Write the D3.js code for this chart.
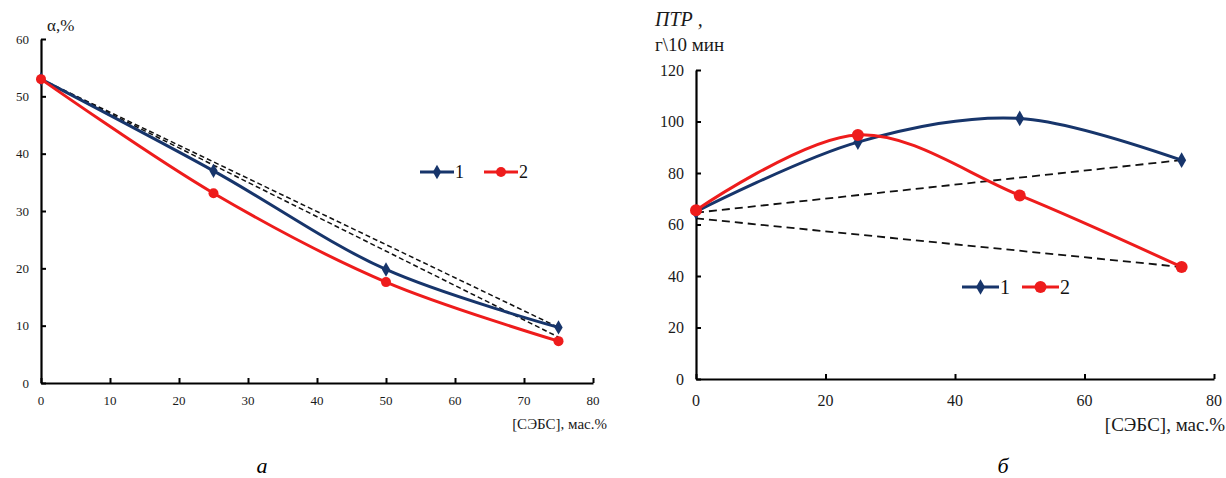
<!DOCTYPE html>
<html lang="ru">
<head>
<meta charset="utf-8">
<title>СЭБС</title>
<script src="https://d3js.org/d3.v7.min.js"></script>
<style>
  body { margin: 0; background: #fff; }
  svg { display: block; }
  svg text { font-family: 'Liberation Serif', 'DejaVu Serif', 'Times New Roman', serif; }
</style>
</head>
<body>
<script>

// shared x values, [СЭБС], мас.%
var sebs = [0, 25, 50, 75];

// panel a: alpha, %
var alpha1 = [53, 37, 19.8, 9.7];
var alpha2 = [53, 33.1, 17.6, 7.3];
var alphaDash1 = [[0, 53], [75, 9.7]];
var alphaDash2 = [[0, 53], [75, 8.0]];
var alphaTicksX = [0, 10, 20, 30, 40, 50, 60, 70, 80];
var alphaTicksY = [0, 10, 20, 30, 40, 50, 60];

// panel b: ПТР, г/10 мин
var ptr1 = [65, 92, 101.2, 85];
var ptr2 = [65.5, 94.8, 71.3, 43.5];
var ptrDash1 = [[0, 64.6], [75, 85]];
var ptrDash2 = [[0, 62.4], [75, 43.5]];
var ptrTicksX = [0, 20, 40, 60, 80];
var ptrTicksY = [0, 20, 40, 60, 80, 100, 120];

var seriesNames = ["1", "2"];
var blue = "#17356b";
var red = "#ee1c1c";

var W = 1226, H = 478;

var svg = d3.select("body").append("svg")
    .attr("width", W)
    .attr("height", H)
    .attr("font-family", "'Liberation Serif', 'DejaVu Serif', serif");

var curve = d3.curveCatmullRom.alpha(0.5);

function drawPanel(p) {
  var x = d3.scaleLinear().domain([0, 80]).range([p.left, p.right]);
  var y = d3.scaleLinear().domain([0, p.ymax]).range([p.bottom, p.top]);
  var g = svg.append("g");

  // dashed reference lines
  [p.dash1, p.dash2].forEach(function(d) {
    g.append("path")
        .attr("d", d3.line().x(function(v) { return x(v[0]); }).y(function(v) { return y(v[1]); })(d))
        .attr("fill", "none")
        .attr("stroke", "#111")
        .attr("stroke-width", p.dashWidth)
        .attr("stroke-dasharray", p.dashArray);
  });

  // axes
  var ax = g.append("g")
      .attr("transform", "translate(0," + p.bottom + ")")
      .call(d3.axisTop(x).tickValues(p.ticksX).tickSize(5).tickPadding(0).tickSizeOuter(0));
  ax.selectAll("text").remove();
  ax.selectAll("line").attr("stroke", "#000").attr("stroke-width", 2);
  ax.select(".domain").attr("stroke", "#000").attr("stroke-width", 2.2);

  var ay = g.append("g")
      .attr("transform", "translate(" + p.left + ",0)")
      .call(d3.axisRight(y).tickValues(p.ticksY).tickSize(5).tickSizeOuter(0));
  ay.selectAll("text").remove();
  ay.selectAll("line").attr("stroke", "#000").attr("stroke-width", 2);
  ay.select(".domain").attr("stroke", "#000").attr("stroke-width", 2.2);

  // tick labels
  g.selectAll(".xl").data(p.ticksX).enter().append("text")
      .attr("x", function(d) { return x(d); })
      .attr("y", p.bottom + p.xLabelDy)
      .attr("text-anchor", "middle")
      .attr("font-size", p.tickFont)
      .attr("fill", "#1a1a1a")
      .text(function(d) { return d; });

  g.selectAll(".yl").data(p.ticksY).enter().append("text")
      .attr("x", p.left - p.yLabelDx)
      .attr("y", function(d) { return y(d); })
      .attr("dy", "0.35em")
      .attr("text-anchor", "end")
      .attr("font-size", p.tickFont)
      .attr("fill", "#1a1a1a")
      .text(function(d) { return d; });

  // series
  var line = d3.line()
      .x(function(d, i) { return x(sebs[i]); })
      .y(function(d) { return y(d); })
      .curve(curve);

  g.append("path").attr("d", line(p.s1))
      .attr("fill", "none").attr("stroke", blue).attr("stroke-width", 3);
  g.append("path").attr("d", line(p.s2))
      .attr("fill", "none").attr("stroke", red).attr("stroke-width", 3);

  var diamond = d3.symbol().type(d3.symbolDiamond).size(p.diamondSize);
  g.selectAll(".m1").data(p.s1).enter().append("path")
      .attr("d", diamond)
      .attr("transform", function(d, i) { return "translate(" + x(sebs[i]) + "," + y(d) + ")"; })
      .attr("fill", blue);
  g.selectAll(".m2").data(p.s2).enter().append("circle")
      .attr("cx", function(d, i) { return x(sebs[i]); })
      .attr("cy", function(d) { return y(d); })
      .attr("r", p.circleR)
      .attr("fill", red);

  // legend
  var lg = g.append("g").attr("transform", "translate(" + p.legend[0] + "," + p.legend[1] + ")");
  [blue, red].forEach(function(c, i) {
    var ox = i * p.legendStep;
    lg.append("line").attr("x1", ox).attr("x2", ox + p.legendLen)
        .attr("y1", 0).attr("y2", 0)
        .attr("stroke", c).attr("stroke-width", 3);
    if (i === 0) {
      lg.append("path").attr("d", diamond).attr("fill", c)
          .attr("transform", "translate(" + (ox + p.legendLen / 2) + ",0)");
    } else {
      lg.append("circle").attr("cx", ox + p.legendLen / 2).attr("cy", 0)
          .attr("r", p.circleR).attr("fill", c);
    }
    lg.append("text").attr("x", ox + p.legendLen + 1).attr("y", 0).attr("dy", "0.35em")
        .attr("font-size", p.legendFont).attr("fill", "#111")
        .text(seriesNames[i]);
  });

  // x axis title
  g.append("text")
      .attr("x", p.xTitle[0]).attr("y", p.xTitle[1])
      .attr("text-anchor", "end")
      .attr("font-size", p.xTitleFont)
      .attr("fill", "#1a1a1a")
      .text("[СЭБС], мас.%");

  // caption
  g.append("text")
      .attr("x", p.caption[0]).attr("y", p.caption[1])
      .attr("text-anchor", "middle")
      .attr("font-size", 22)
      .attr("font-style", "italic")
      .text(p.captionText);

  return g;
}

var ga = drawPanel({
  left: 41, right: 593, top: 39, bottom: 383, ymax: 60,
  s1: alpha1, s2: alpha2, dash1: alphaDash1, dash2: alphaDash2,
  ticksX: alphaTicksX, ticksY: alphaTicksY,
  tickFont: 13, xLabelDy: 22, yLabelDx: 12,
  diamondSize: 60, circleR: 5,
  dashWidth: 1.5, dashArray: "5,3",
  legend: [420, 172], legendStep: 64, legendLen: 34, legendFont: 18,
  xTitle: [607, 429], xTitleFont: 15,
  caption: [262, 473], captionText: "a"
});

ga.append("text")
    .attr("x", 47).attr("y", 31)
    .attr("font-size", 17)
    .attr("fill", "#1a1a1a")
    .text("α,%");

var gb = drawPanel({
  left: 696, right: 1214, top: 70, bottom: 379, ymax: 120,
  s1: ptr1, s2: ptr2, dash1: ptrDash1, dash2: ptrDash2,
  ticksX: ptrTicksX, ticksY: ptrTicksY,
  tickFont: 16, xLabelDy: 27, yLabelDx: 12,
  diamondSize: 70, circleR: 6,
  dashWidth: 1.8, dashArray: "8,5",
  legend: [962, 287], legendStep: 60, legendLen: 37, legendFont: 20,
  xTitle: [1225, 431], xTitleFont: 19,
  caption: [1003, 473], captionText: "б"
});

gb.append("text")
    .attr("x", 655).attr("y", 26)
    .attr("font-size", 20)
    .attr("font-style", "italic")
    .attr("fill", "#1a1a1a")
    .text("ПТР ,");

gb.append("text")
    .attr("x", 655).attr("y", 51)
    .attr("font-size", 19)
    .attr("fill", "#1a1a1a")
    .text("г\\10 мин");

</script>
</body>
</html>
